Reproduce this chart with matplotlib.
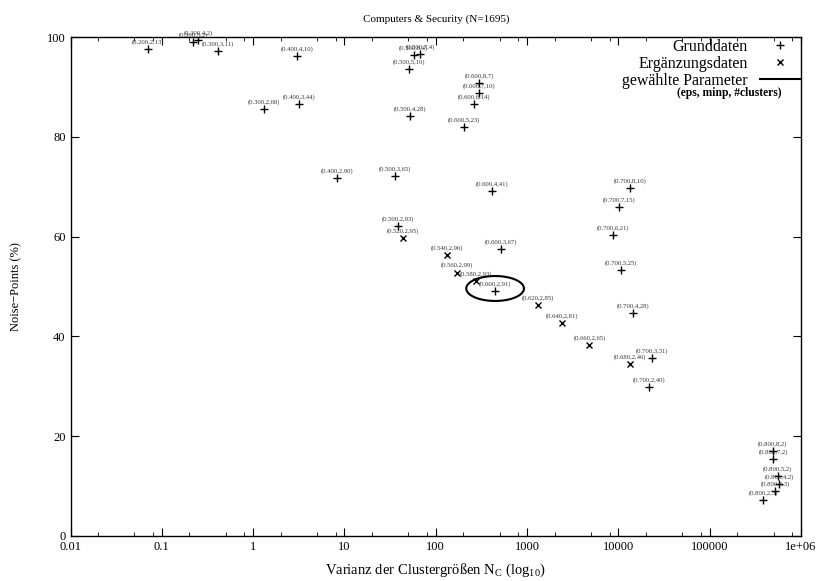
import numpy as np
import matplotlib
matplotlib.use("Agg")
import matplotlib.pyplot as plt
from matplotlib.ticker import LogLocator, FixedLocator, FixedFormatter, NullFormatter

plt.rcParams['font.family'] = ['Liberation Serif', 'DejaVu Serif']
plt.rcParams['mathtext.fontset'] = 'custom'
plt.rcParams['mathtext.rm'] = 'Liberation Serif'
plt.rcParams['mathtext.it'] = 'Liberation Serif:italic'

# Grunddaten (+)
grund_labels = ["(0.200,2,13)", "(0.300,2,68)", "(0.400,3,44)", "(0.300,3,11)", "(0.400,4,10)",
                "(0.300,4,2)", "(0.300,5,2)", "(0.500,5,10)", "(0.500,7,4)", "(0.500,6,4)",
                "(0.600,8,7)", "(0.600,7,10)", "(0.600,6,14)", "(0.500,4,28)", "(0.600,5,23)",
                "(0.400,2,90)", "(0.500,3,65)", "(0.600,4,41)", "(0.500,2,93)", "(0.600,3,67)",
                "(0.600,2,91)", "(0.700,4,28)", "(0.700,3,31)", "(0.700,2,40)", "(0.700,8,10)",
                "(0.700,7,15)", "(0.700,6,21)", "(0.700,5,25)", "(0.800,8,2)", "(0.800,7,2)",
                "(0.800,5,2)", "(0.800,4,2)", "(0.800,3,3)", "(0.800,2,5)"]
grund_x = [0.0706, 1.32, 3.21, 0.41, 3.05,
           0.251, 0.221, 51.4, 67.3, 57.4,
           300, 300, 265, 52.3, 204,
           8.24, 36.1, 414, 38.9, 519,
           447, 14380, 23400, 21860, 13430,
           10250, 8820, 10620, 491000, 499000,
           557000, 575000, 520000, 387000]
grund_y = [97.6, 85.5, 86.5, 97.1, 96.1,
           99.4, 98.9, 93.6, 96.6, 96.3,
           90.7, 88.7, 86.6, 84.1, 82.0,
           71.7, 72.1, 69.1, 62.1, 57.5,
           49.0, 44.6, 35.7, 29.9, 69.7,
           65.9, 60.3, 53.3, 17.0, 15.4,
           12.0, 10.4, 9.0, 7.2]

# Ergaenzungsdaten (x)
erg_labels = ["(0.520,2,95)", "(0.540,2,96)", "(0.560,2,99)", "(0.580,2,93)",
              "(0.620,2,85)", "(0.640,2,81)", "(0.660,2,65)", "(0.680,2,46)"]
erg_x = [43.8, 133, 172.5, 274, 1330, 2400, 4810, 13430]
erg_y = [59.7, 56.3, 52.8, 51.1, 46.3, 42.7, 38.2, 34.4]

# gewaehlte Parameter (Ellipse um (0.600,2,91))
sel_logx = 2.650
sel_y = 49.6
sel_w = 0.316   # Dekaden
sel_h = 2.5

xticks = [0.01, 0.1, 1, 10, 100, 1000, 10000, 100000, 1e6]
xtick_labels = ["0.01", "0.1", "1", "10", "100", "1000", "10000", "100000", "1e+06"]
yticks = [0, 20, 40, 60, 80, 100]

fig = plt.figure(figsize=(8.19, 5.81), dpi=100)
ax = fig.add_axes([70.5 / 819, 45 / 581, (801 - 70.5) / 819, (536 - 37) / 581])

ax.plot(grund_x, grund_y, ls='none', marker='+', ms=6, mew=1.0, color='black', label='Grunddaten')
ax.plot(erg_x, erg_y, ls='none', marker='x', ms=4, mew=1.0, color='black', label='Ergänzungsdaten')

t = np.linspace(0, 2 * np.pi, 200)
ax.plot(10 ** (sel_logx + sel_w * np.cos(t)), sel_y + sel_h * np.sin(t),
        color='black', lw=1.5, label='gewählte Parameter')

for lab, x, y in zip(grund_labels + erg_labels, grund_x + erg_x, grund_y + erg_y):
    ax.annotate(lab, (x, y), xytext=(0, 5), textcoords='offset points',
                ha='center', va='center', fontsize=4.8, color='#333333')

ax.set_xscale('log')
ax.set_xlim(0.01, 1e6)
ax.set_ylim(0, 100)
ax.xaxis.set_major_locator(FixedLocator(xticks))
ax.xaxis.set_major_formatter(FixedFormatter(xtick_labels))
ax.xaxis.set_minor_locator(LogLocator(base=10, subs=(2, 5, 8)))
ax.xaxis.set_minor_formatter(NullFormatter())
ax.set_yticks(yticks)
ax.tick_params(which='both', direction='in', top=True, right=True, labelsize=9)
ax.tick_params(which='major', length=6)
ax.tick_params(which='minor', length=3)
for s in ax.spines.values():
    s.set_linewidth(1.0)

ax.set_title('Computers & Security (N=1695)', fontsize=8, pad=11)
ax.set_xlabel('Varianz der Clustergrößen N$_\\mathrm{C}$ (log$_\\mathrm{10}$)', fontsize=10.5, labelpad=6)
ax.set_ylabel('Noise−Points (%)', fontsize=9, labelpad=18)

ax.legend(loc='upper right', bbox_to_anchor=(0.999, 0.996), frameon=False, markerfirst=False,
          fontsize=11.5, handlelength=2.5, labelspacing=0.05, borderpad=0, borderaxespad=0,
          handletextpad=0.8)
ax.text(0.902, 0.888, '(eps, minp, #clusters)', transform=ax.transAxes,
        ha='center', va='center', fontsize=8.3, fontweight='bold')

fig.savefig('out.png', dpi=100)
